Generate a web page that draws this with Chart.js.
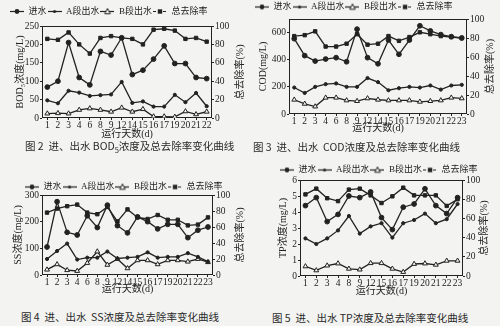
<!DOCTYPE html>
<html>
<head>
<meta charset="utf-8">
<script src="https://cdn.jsdelivr.net/npm/chart.js@4.4.0/dist/chart.umd.min.js"></script>
<style>
  html, body { margin: 0; padding: 0; background: #f3f3f1; }
  #page { position: relative; width: 500px; height: 326px; overflow: hidden; }
  #page canvas { position: absolute; }
  .cap {
    position: absolute;
    font-family: "Noto Sans CJK SC", sans-serif;
    font-size: 10.5px;
    line-height: 14px;
    color: #2a2a2a;
    white-space: pre;
  }
</style>
</head>
<body>
<div id="page">
  <canvas id="bod" width="250" height="140" style="left:0;top:0"></canvas>
  <canvas id="cod" width="250" height="134" style="left:250px;top:0"></canvas>
  <canvas id="ss" width="250" height="132" style="left:0;top:163px"></canvas>
  <canvas id="tp" width="250" height="134" style="left:250px;top:163px"></canvas>
  <div class="cap" style="left:25px;top:139px">图 2  进、出水 BOD<sub style="font-size:7.5px">5</sub>浓度及总去除率变化曲线</div>
  <div class="cap" style="left:253px;top:140px">图 3  进、出水  COD浓度及总去除率变化曲线</div>
  <div class="cap" style="left:21px;top:310px">图 4  进、出水  SS浓度及总去除率变化曲线</div>
  <div class="cap" style="left:272px;top:311px">图 5  进、出水 TP浓度及总去除率变化曲线</div>
</div>
<script>
// ---- data ----
const seriesNames = ["进水", "A段出水", "B段出水", "总去除率"];

const bodDays = ["1", "2", "3", "4", "6", "8", "9", "12", "14", "15", "16", "17", "19", "20", "21", "22"];
const bodInflow = [84, 100, 205, 110, 90, 181, 171, 218, 118, 130, 160, 196, 148, 148, 110, 107];
const bodEffA = [48, 40, 74, 69, 60, 62, 64, 98, 41, 45, 31, 31, 63, 43, 68, 32];
const bodEffB = [12, 13, 12, 22, 26, 22, 17, 28, 17, 24, 4, 4, 3, 18, 10, 17];
const bodRemoval = [86, 85, 93, 80, 70, 87, 89, 87, 86, 80, 96, 97, 95, 86, 87, 83];

const codDays = ["1", "2", "3", "4", "6", "8", "9", "12", "14", "15", "16", "17", "19", "20", "21", "22", "23"];
const codInflow = [555, 430, 390, 405, 415, 385, 625, 415, 370, 545, 440, 545, 650, 612, 585, 570, 560];
const codEffA = [195, 155, 200, 220, 225, 200, 200, 265, 235, 175, 190, 200, 195, 210, 180, 210, 215];
const codEffB = [105, 75, 55, 120, 120, 100, 95, 115, 105, 100, 100, 100, 90, 95, 100, 120, 115];
const codRemoval = [82, 83, 87, 71, 71, 74, 84, 73, 74, 82, 77, 81, 86, 84, 82, 81, 80];

const ssDays = ["1", "2", "3", "4", "6", "8", "9", "12", "14", "15", "16", "17", "19", "20", "21", "22", "23"];
const ssInflow = [105, 275, 160, 150, 222, 178, 262, 185, 158, 218, 200, 173, 190, 190, 140, 168, 180];
const ssEffA = [60, 90, 118, 58, 65, 65, 88, 62, 65, 68, 85, 65, 68, 68, 82, 68, 50];
const ssEffB = [20, 40, 18, 15, 45, 88, 38, 60, 25, 55, 55, 40, 55, 55, 50, 60, 48];
const ssRemoval = [78, 83, 86, 88, 78, 76, 85, 67, 82, 72, 70, 75, 69, 69, 62, 63, 72];

const tpDays = ["1", "2", "3", "4", "8", "9", "12", "15", "16", "17", "19", "20", "21", "22", "23"];
const tpInflow = [4.4, 4.9, 3.4, 3.85, 5.0, 4.9, 5.25, 3.65, 2.9, 4.3, 4.5, 5.45, 4.4, 3.9, 4.9];
const tpEffA = [2.35, 2.0, 2.35, 2.85, 3.75, 2.65, 3.1, 3.3, 2.4, 3.3, 3.5, 3.9, 3.3, 3.55, 4.5];
const tpEffB = [0.6, 0.35, 0.65, 0.78, 0.45, 0.4, 0.8, 0.8, 0.45, 0.25, 0.75, 0.78, 0.7, 0.95, 0.95];
const tpRemoval = [85, 91, 81, 78, 90, 91, 84, 76, 83, 92, 84, 84, 84, 73, 80];

// ---- look ----
const FONT = "'Liberation Serif', 'Noto Sans CJK SC', serif";
const INK = "#222";
const PAPER = "#f3f3f1";

const markers = [
  { style: "circle", r: 2.4 },
  { style: "circle", r: 1.6 },
  { style: "triangle", r: 2.8 },
  { style: "rect", r: 2.4 },
];

function legendIcon(m, dashed) {
  const c = document.createElement("canvas");
  c.width = 14;
  c.height = 9;
  const g = c.getContext("2d");
  g.strokeStyle = INK;
  g.fillStyle = INK;
  g.lineWidth = 1.2;
  if (dashed) g.setLineDash([3, 2]);
  g.beginPath();
  g.moveTo(0, 4.5);
  g.lineTo(14, 4.5);
  g.stroke();
  g.setLineDash([]);
  g.beginPath();
  if (m.style === "circle") {
    g.arc(7, 4.5, m.r, 0, Math.PI * 2);
    g.fill();
  } else if (m.style === "triangle") {
    g.moveTo(7, 1.5);
    g.lineTo(9.8, 6.8);
    g.lineTo(4.2, 6.8);
    g.closePath();
    g.fillStyle = PAPER;
    g.fill();
    g.lineWidth = 1;
    g.stroke();
  } else {
    g.fillRect(4.8, 2.3, 4.4, 4.4);
  }
  return c;
}
const icons = markers.map((m, i) => legendIcon(m, i === 3));

const framePlugin = {
  id: "frame",
  beforeDatasetsDraw(chart) {
    const { ctx, chartArea: a } = chart;
    ctx.save();
    ctx.strokeStyle = INK;
    ctx.lineWidth = 1;
    ctx.strokeRect(Math.round(a.left) + 0.5, Math.round(a.top) + 0.5,
      Math.round(a.right - a.left) - 1, Math.round(a.bottom - a.top) - 1);
    ctx.restore();
  },
};

// right axis title reads bottom-to-top like the left one
function rightTitle(L) {
  return {
    id: "rightTitle",
    afterDraw(chart) {
      const { ctx, chartArea: a } = chart;
      ctx.save();
      ctx.translate(250 - 6 - L.rt, (a.top + a.bottom) / 2);
      ctx.rotate(-Math.PI / 2);
      ctx.font = "10px " + FONT;
      ctx.fillStyle = INK;
      ctx.textAlign = "center";
      ctx.textBaseline = "middle";
      ctx.fillText("总去除率(%)", 0, 0);
      ctx.restore();
    },
  };
}

function legendPlacer(L) {
  return {
    id: "legendPlacer",
    beforeLayout(chart) {
      const lg = chart.legend;
      if (lg && !lg._fixed) {
        const fit = lg.fit;
        lg.fit = function () {
          fit.call(this);
          this.height = L.plotTop - L.padTop;
        };
        lg._fixed = true;
      }
    },
    afterLayout(chart) {
      const lg = chart.legend;
      const w = lg.width;
      lg.left = L.legendX - 1;
      lg.right = lg.left + w;
    },
  };
}

function axisFont(size) {
  return { family: FONT, size: size };
}

function drawPanel(id, L, days, values, leftTitle) {
  const datasets = values.map((v, i) => ({
    label: seriesNames[i],
    data: v,
    yAxisID: i === 3 ? "y1" : "y",
    borderColor: INK,
    borderWidth: 1.3,
    pointStyle: markers[i].style,
    pointRadius: markers[i].r,
    pointBackgroundColor: markers[i].style === "triangle" ? PAPER : INK,
    pointBorderColor: INK,
    pointBorderWidth: 1,
    tension: 0,
    fill: false,
  }));

  const tickGrid = {
    display: true,
    drawOnChartArea: false,
    drawTicks: true,
    tickLength: 2,
    offset: false,
    color: INK,
  };

  new Chart(document.getElementById(id), {
    type: "line",
    data: { labels: days, datasets: datasets },
    options: {
      responsive: false,
      animation: false,
      devicePixelRatio: 1,
      layout: { padding: { top: L.padTop, left: 0, right: 0, bottom: 0 } },
      plugins: {
        tooltip: { enabled: false },
        legend: {
          position: "top",
          align: "start",
          labels: {
            font: axisFont(9),
            color: INK,
            usePointStyle: true,
            pointStyleWidth: 14,
            padding: 1,
            generateLabels: (chart) =>
              chart.data.datasets.map((ds, i) => ({
                text: ds.label,
                pointStyle: icons[i],
                datasetIndex: i,
                fontColor: INK,
                fillStyle: INK,
                strokeStyle: INK,
                lineWidth: 0,
                hidden: false,
              })),
          },
        },
      },
      scales: {
        x: {
          offset: true,
          grid: tickGrid,
          border: { display: false },
          ticks: {
            autoSkip: false,
            maxRotation: 0,
            minRotation: 0,
            padding: 0,
            font: axisFont(9.5),
            color: INK,
          },
          title: {
            display: true,
            text: "运行天数(d)",
            font: axisFont(10),
            color: INK,
            padding: { top: 0, bottom: 0 },
          },
          afterFit: (s) => { s.height = L.H - L.plotBottom; },
        },
        y: {
          position: "left",
          min: 0,
          max: L.ymax,
          grid: tickGrid,
          border: { display: false },
          ticks: { stepSize: L.ystep, padding: 1, font: axisFont(9.5), color: INK },
          title: {
            display: true,
            text: leftTitle,
            font: axisFont(10),
            color: INK,
            padding: { top: L.lt, bottom: 0 },
          },
          afterFit: (s) => { s.width = L.plotLeft; },
        },
        y1: {
          position: "right",
          min: 0,
          max: 100,
          grid: tickGrid,
          border: { display: false },
          ticks: { stepSize: 10, padding: 1, font: axisFont(9.5), color: INK },
          afterFit: (s) => { s.width = 250 - L.plotRight; },
        },
      },
    },
    plugins: [framePlugin, legendPlacer(L), rightTitle(L)],
  });
}

drawPanel("bod",
  { H: 140, plotLeft: 42, plotRight: 212, plotTop: 26, plotBottom: 118, legendX: 10, padTop: 6, lt: 14, rt: 4, ymax: 250, ystep: 50 },
  bodDays, [bodInflow, bodEffA, bodEffB, bodRemoval], "BOD₅浓度(mg/L)");

drawPanel("cod",
  { H: 134, plotLeft: 39, plotRight: 217, plotTop: 19, plotBottom: 114, legendX: 5, padTop: 1.5, lt: 7, rt: 4, ymax: 700, ystep: 100 },
  codDays, [codInflow, codEffA, codEffB, codRemoval], "COD(mg/L)");

drawPanel("ss",
  { H: 132, plotLeft: 42, plotRight: 213, plotTop: 32, plotBottom: 112, legendX: 25, padTop: 18.5, lt: 12, rt: 4, ymax: 300, ystep: 50 },
  ssDays, [ssInflow, ssEffA, ssEffB, ssRemoval], "SS浓度(mg/L)");

drawPanel("tp",
  { H: 134, plotLeft: 50, plotRight: 213, plotTop: 17, plotBottom: 113, legendX: 30, padTop: 1.5, lt: 27, rt: 10, ymax: 6, ystep: 1 },
  tpDays, [tpInflow, tpEffA, tpEffB, tpRemoval], "TP浓度(mg/L)");
</script>
</body>
</html>
